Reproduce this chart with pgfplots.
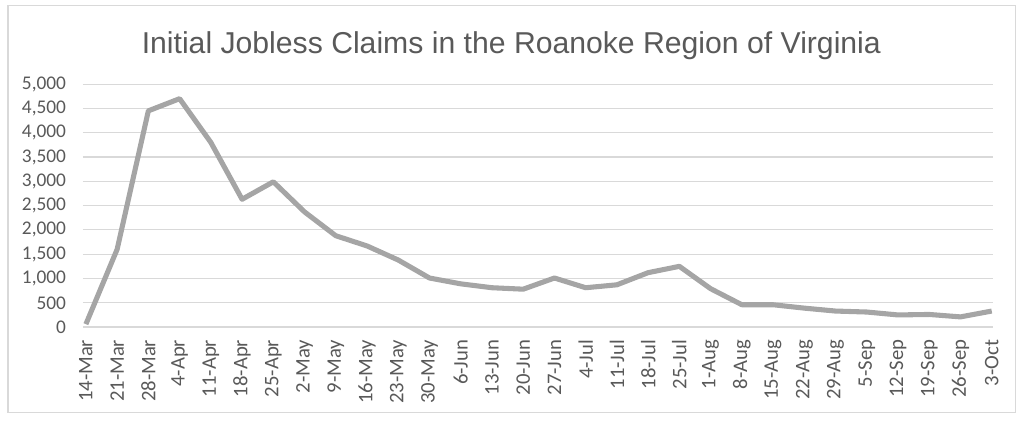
\documentclass[border=0pt]{standalone}
\usepackage{pgfplots}
\pgfplotsset{compat=1.18}
\usepackage{fontspec}
\setmainfont{Carlito}
\newfontfamily\titlefont{Liberation Sans}
\definecolor{linegray}{HTML}{A5A5A5}
\definecolor{gridgray}{HTML}{D9D9D9}
\definecolor{textgray}{HTML}{595959}
\begin{document}
\begin{tikzpicture}
\begin{axis}[
  name=ax,
  scale only axis,
  width=682pt, height=182pt,
  xmin=-0.1, xmax=29.05,
  ymin=0, ymax=5000,
  ytick={0,500,...,5000},
  xtick={0,...,29},
  xticklabels={14-Mar,21-Mar,28-Mar,4-Apr,11-Apr,18-Apr,25-Apr,2-May,9-May,16-May,23-May,30-May,6-Jun,13-Jun,20-Jun,27-Jun,4-Jul,11-Jul,18-Jul,25-Jul,1-Aug,8-Aug,15-Aug,22-Aug,29-Aug,5-Sep,12-Sep,19-Sep,26-Sep,3-Oct},
  axis line style={draw=none},
  major tick length=0pt,
  ymajorgrids,
  grid style={gridgray, line width=0.9pt},
  /pgf/number format/assume math mode=true,
  /pgf/number format/1000 sep={,},
  yticklabel style={font=\fontsize{14.5}{16}\selectfont, text=textgray, anchor=east, xshift=-9pt},
  xticklabel style={font=\fontsize{15.5}{17}\selectfont, text=textgray, rotate=90, anchor=east, xshift=-6pt},
  clip=false,
]
\addplot[linegray, line width=3.8pt, line join=round, mark=none] coordinates {
(0,60) (1,1600) (2,4450) (3,4700) (4,3800) (5,2630) (6,2990) (7,2370) (8,1880) (9,1670)
(10,1380) (11,1010) (12,890) (13,810) (14,780) (15,1010) (16,810) (17,870) (18,1120) (19,1250)
(20,790) (21,460) (22,460) (23,390) (24,330) (25,310) (26,250) (27,260) (28,210) (29,330)
};
\end{axis}
\draw[gridgray, line width=0.8pt] ([xshift=-56pt,yshift=-64pt]ax.south west) rectangle ([xshift=16.5pt,yshift=59pt]ax.north east);
\path ([xshift=-62pt,yshift=-71pt]ax.south west) rectangle ([xshift=23pt,yshift=63pt]ax.north east);
\node[text=textgray, font=\titlefont\fontsize{22.6}{26}\selectfont] at ([xshift=-20pt,yshift=29pt]ax.north) {Initial Jobless Claims in the Roanoke Region of Virginia};
\end{tikzpicture}
\end{document}
